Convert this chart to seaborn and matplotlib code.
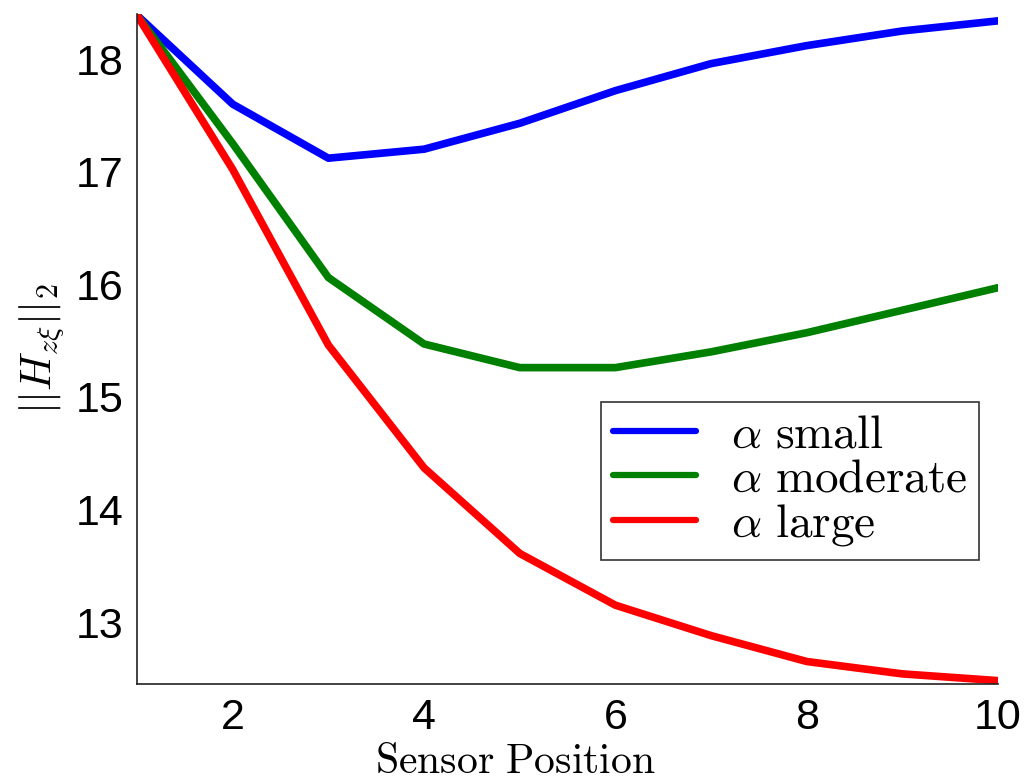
import matplotlib
matplotlib.use("Agg")
import matplotlib.pyplot as plt
import seaborn as sns
import pandas as pd

# Norm of the transfer function versus sensor position for three alpha settings
positions = [1, 2, 3, 4, 5, 6, 7, 8, 9, 10]
alpha_small = [18.39, 17.60, 17.12, 17.20, 17.43, 17.72, 17.96, 18.12, 18.25, 18.34]
alpha_moderate = [18.39, 17.25, 16.06, 15.47, 15.26, 15.26, 15.40, 15.57, 15.77, 15.97]
alpha_large = [18.39, 17.02, 15.46, 14.37, 13.61, 13.15, 12.88, 12.65, 12.54, 12.48]

series_labels = [r"$\alpha\ \mathrm{small}$", r"$\alpha\ \mathrm{moderate}$", r"$\alpha\ \mathrm{large}$"]
series_colors = ["#0000ff", "#008000", "#ff0000"]

frames = []
for label, values in zip(series_labels, [alpha_small, alpha_moderate, alpha_large]):
    frames.append(pd.DataFrame({"position": positions, "norm": values, "case": label}))
df = pd.concat(frames, ignore_index=True)

sns.set_theme(style="white")
plt.rcParams["mathtext.fontset"] = "cm"
plt.rcParams["font.family"] = ["Liberation Sans", "DejaVu Sans"]
plt.rcParams["text.color"] = "black"
plt.rcParams["axes.labelcolor"] = "black"

fig = plt.figure(figsize=(10.28, 7.82), dpi=100)
ax = fig.add_axes([0.1333, 0.1253, 0.8376, 0.8567])

sns.lineplot(data=df, x="position", y="norm", hue="case",
             palette=dict(zip(series_labels, series_colors)),
             linewidth=5.5, ax=ax, legend=True)

ax.set_xlim(1, 10)
ax.set_ylim(12.45, 18.4)
ax.set_xticks([2, 4, 6, 8, 10])
ax.set_yticks([13, 14, 15, 16, 17, 18])
ax.tick_params(direction="in", length=7, width=1, labelsize=31, color="#222222",
               labelcolor="black", pad=10)
for side in ["top", "right"]:
    ax.spines[side].set_visible(False)
for side in ["left", "bottom"]:
    ax.spines[side].set_color("#222222")
    ax.spines[side].set_linewidth(1.2)

ax.set_xlabel(r"$\mathrm{Sensor\ Position}$", fontsize=30, color="black")
ax.xaxis.set_label_coords(0.439, -0.086)
ax.set_ylabel(r"$||H_{z\xi}||_2$", fontsize=31, labelpad=6, color="black")

leg = ax.legend(loc="upper right", bbox_to_anchor=(0.978, 0.421), borderaxespad=0,
                fontsize=34, frameon=True, fancybox=False, shadow=False,
                handlelength=1.75, handletextpad=0.75, labelspacing=0.0,
                borderpad=0.25)
leg.get_frame().set_edgecolor("black")
leg.get_frame().set_linewidth(1.2)
for text in leg.get_texts():
    text.set_color("black")
for line in leg.get_lines():
    line.set_linewidth(4.5)

fig.savefig("out.png", dpi=100)
